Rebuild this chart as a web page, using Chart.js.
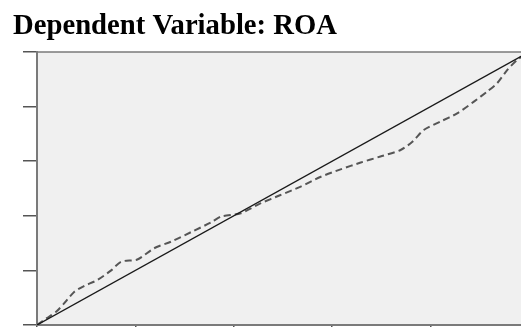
<!DOCTYPE html>
<html>
<head>
<meta charset="utf-8">
<script src="https://cdn.jsdelivr.net/npm/chart.js@4/dist/chart.umd.min.js"></script>
<style>
  html, body { margin: 0; padding: 0; background: #ffffff; overflow: hidden; }
  #wrap { position: relative; width: 529px; height: 327px; }
</style>
</head>
<body>
<div id="wrap"><canvas id="c" width="529" height="327"></canvas></div>
<script>
// Normal P-P plot of regression standardized residuals
const titleText = "Dependent Variable: ROA";
const expectedProb = [0, 0.02, 0.04, 0.055, 0.076, 0.096, 0.123, 0.150, 0.171, 0.204, 0.238, 0.272, 0.313, 0.353, 0.374, 0.414, 0.455, 0.495, 0.536, 0.577, 0.617, 0.658, 0.698, 0.739, 0.763, 0.786, 0.820, 0.854, 0.888, 0.915, 0.935, 0.956, 0.976, 1.0];
const observedProb = [0, 0.025, 0.05, 0.079, 0.122, 0.143, 0.165, 0.199, 0.232, 0.240, 0.281, 0.305, 0.340, 0.375, 0.397, 0.409, 0.446, 0.476, 0.507, 0.543, 0.570, 0.595, 0.617, 0.641, 0.671, 0.714, 0.745, 0.775, 0.818, 0.855, 0.885, 0.934, 0.971, 1.0];
const referenceLine = [0, 1];
const tickValues = [0, 0.2, 0.4, 0.6, 0.8, 1.0];

const observedPoints = expectedProb.map((x, i) => ({ x: x, y: observedProb[i] }));
const refPoints = referenceLine.map(v => ({ x: v, y: v }));

const plotBg = {
  id: 'plotBg',
  beforeDraw(chart) {
    const { ctx, chartArea: a } = chart;
    ctx.save();
    ctx.fillStyle = '#f0f0f0';
    ctx.fillRect(a.left, a.top, a.right - a.left, a.bottom - a.top);
    ctx.strokeStyle = '#7a7a7a';
    ctx.lineWidth = 1.5;
    ctx.beginPath();
    ctx.moveTo(a.left, a.top);
    ctx.lineTo(a.right, a.top);
    ctx.stroke();
    ctx.restore();
  }
};

new Chart(document.getElementById('c'), {
  type: 'scatter',
  data: {
    datasets: [
      {
        data: refPoints,
        showLine: true,
        borderColor: '#1a1a1a',
        borderWidth: 1.3,
        pointRadius: 0,
        tension: 0
      },
      {
        data: observedPoints,
        showLine: true,
        borderColor: '#555555',
        borderWidth: 2,
        borderDash: [7, 4],
        pointRadius: 0,
        tension: 0.25
      }
    ]
  },
  options: {
    responsive: false,
    animation: false,
    layout: { padding: { left: 13, right: 0, top: 0, bottom: 0 } },
    plugins: {
      legend: { display: false },
      tooltip: { enabled: false },
      title: {
        display: true,
        text: titleText,
        align: 'start',
        color: '#000000',
        font: { family: "'Liberation Serif', 'Times New Roman', serif", size: 28.7, weight: 'bold', lineHeight: 1.2 },
        padding: { top: 9, bottom: 8.5 }
      }
    },
    scales: {
      x: {
        type: 'linear',
        min: 0, max: 1,
        afterBuildTicks(scale) { scale.ticks = tickValues.map(v => ({ value: v })); },
        afterFit(scale) { scale.height = 2; },
        ticks: { display: false },
        grid: { drawOnChartArea: false, drawTicks: true, tickLength: 6, color: '#555555', lineWidth: 1.5 },
        border: { display: true, color: '#7a7a7a', width: 2 }
      },
      y: {
        type: 'linear',
        min: 0, max: 1,
        afterBuildTicks(scale) { scale.ticks = tickValues.map(v => ({ value: v })); },
        afterFit(scale) { scale.width = 24; },
        ticks: { display: false },
        grid: { drawOnChartArea: false, drawTicks: true, tickLength: 14, color: '#555555', lineWidth: 1.5 },
        border: { display: true, color: '#7a7a7a', width: 2 }
      }
    }
  },
  plugins: [plotBg]
});
</script>
</body>
</html>
